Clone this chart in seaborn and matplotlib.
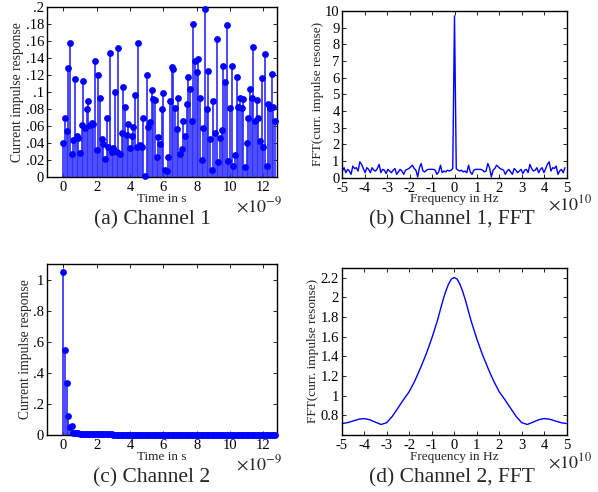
import numpy as np
import pandas as pd
import seaborn as sns
import matplotlib
matplotlib.use('Agg')
import matplotlib.pyplot as plt

# channel 1 impulse response (128 samples, 0.1 ns apart)
ch1_values = [0.040, 0.070, 0.054, 0.128, 0.158, 0.027, 0.044, 0.115, 0.048, 0.046,
              0.029, 0.061, 0.113, 0.058, 0.080, 0.089, 0.061, 0.064, 0.062, 0.136,
              0.032, 0.120, 0.093, 0.045, 0.039, 0.022, 0.069, 0.036, 0.146, 0.030,
              0.034, 0.100, 0.030, 0.151, 0.027, 0.052, 0.106, 0.083, 0.050, 0.063,
              0.034, 0.048, 0.059, 0.096, 0.035, 0.158, 0.038, 0.035, 0.069, 0.002,
              0.120, 0.059, 0.065, 0.102, 0.092, 0.091, 0.024, 0.047, 0.039, 0.080,
              0.099, 0.009, 0.007, 0.024, 0.089, 0.129, 0.127, 0.081, 0.057, 0.093,
              0.027, 0.033, 0.066, 0.048, 0.086, 0.118, 0.104, 0.066, 0.180, 0.136,
              0.123, 0.139, 0.093, 0.020, 0.058, 0.197, 0.080, 0.125, 0.045, 0.009,
              0.089, 0.052, 0.162, 0.018, 0.046, 0.056, 0.130, 0.112, 0.179, 0.019,
              0.081, 0.130, 0.013, 0.026, 0.118, 0.082, 0.093, 0.081, 0.092, 0.012,
              0.040, 0.069, 0.104, 0.093, 0.153, 0.066, 0.091, 0.070, 0.043, 0.116,
              0.036, 0.145, 0.013, 0.086, 0.081, 0.121, 0.083, 0.066]

# channel 2 impulse response (same sampling)
ch2_values = [1.047, 0.546, 0.332, 0.124, 0.050, 0.058, 0.015, 0.015, 0.013, 0.010,
              0.009, 0.008, 0.007, 0.007, 0.006, 0.006, 0.006, 0.005, 0.005, 0.005,
              0.005, 0.005, 0.004, 0.004, 0.004, 0.004, 0.004, 0.004, 0.004, 0.004,
              0.003, 0.003, 0.003, 0.003, 0.003, 0.003, 0.003, 0.003, 0.003, 0.003,
              0.003, 0.003, 0.003, 0.003, 0.003, 0.003, 0.003, 0.003, 0.003, 0.003,
              0.002, 0.002, 0.002, 0.002, 0.002, 0.002, 0.002, 0.002, 0.002, 0.002,
              0.002, 0.002, 0.002, 0.002, 0.002, 0.002, 0.002, 0.002, 0.002, 0.002,
              0.002, 0.002, 0.002, 0.002, 0.002, 0.002, 0.002, 0.002, 0.002, 0.002,
              0.002, 0.002, 0.002, 0.002, 0.002, 0.002, 0.002, 0.002, 0.002, 0.002,
              0.002, 0.002, 0.002, 0.002, 0.002, 0.002, 0.002, 0.002, 0.002, 0.002,
              0.001, 0.001, 0.001, 0.001, 0.001, 0.001, 0.001, 0.001, 0.001, 0.001,
              0.001, 0.001, 0.001, 0.001, 0.001, 0.001, 0.001, 0.001, 0.001, 0.001,
              0.001, 0.001, 0.001, 0.001, 0.001, 0.001, 0.001, 0.001]

sample_step = 0.1  # in 1e-9 s

# |FFT| of channel 1, negative frequencies (-5 ... -0.08), the DC peak, positive side
fft1_neg = [0.40, 0.60, 0.30, 0.50, 0.40, 0.20, 0.70, 0.55, 0.60, 0.40,
            0.95, 0.80, 0.55, 0.30, 0.60, 0.50, 0.30, 0.60, 0.45, 0.40,
            0.55, 0.80, 0.30, 0.50, 0.45, 0.25, 0.50, 0.40, 0.30, 0.45,
            0.55, 0.20, 0.35, 0.50, 0.40, 0.20, 0.45, 0.50, 0.55, 0.65,
            0.75, 0.55, 0.45, 0.05, 0.60, 0.85, 0.40, 0.35, 0.45, 0.50,
            0.50, 0.50, 0.50, 0.45, 0.20, 0.35, 0.75, 0.30, 0.40, 0.35,
            0.45, 0.40, 0.45, 0.55]
fft1_dc = 9.7
fft1_pos = [0.55, 0.45, 0.40, 0.45, 0.35, 0.40, 0.30, 0.75, 0.35, 0.20,
            0.45, 0.50, 0.50, 0.50, 0.50, 0.45, 0.35, 0.40, 0.85, 0.60,
            0.05, 0.45, 0.55, 0.75, 0.65, 0.55, 0.50, 0.45, 0.20, 0.40,
            0.50, 0.35, 0.20, 0.55, 0.45, 0.30, 0.40, 0.50, 0.25, 0.45,
            0.50, 0.30, 0.80, 0.55, 0.40, 0.45, 0.60, 0.30, 0.50, 0.60,
            0.30, 0.55, 0.80, 0.95, 0.40, 0.60, 0.55, 0.70, 0.20, 0.40,
            0.50, 0.30, 0.60]

# |FFT| of channel 2, sampled from -5e10 to 5e10 Hz
fft2_freq = [-5.0, -4.75, -4.5, -4.25, -4.0, -3.75, -3.5, -3.25, -3.0, -2.75,
             -2.5, -2.25, -2.0, -1.75, -1.5, -1.25, -1.0, -0.75, -0.5, -0.375,
             -0.25, -0.125, 0.0, 0.125, 0.25, 0.375, 0.5, 0.75, 1.0, 1.25,
             1.5, 1.75, 2.0, 2.25, 2.5, 2.75, 3.0, 3.25, 3.5, 3.75,
             4.0, 4.25, 4.5, 4.75, 5.0]
fft2_values = [0.716, 0.725, 0.742, 0.760, 0.767, 0.755, 0.730, 0.707, 0.725, 0.790,
               0.874, 0.960, 1.040, 1.150, 1.280, 1.420, 1.580, 1.760, 1.970, 2.060,
               2.135, 2.185, 2.200, 2.185, 2.135, 2.060, 1.970, 1.760, 1.580, 1.420,
               1.280, 1.150, 1.040, 0.960, 0.874, 0.790, 0.725, 0.707, 0.730, 0.755,
               0.767, 0.760, 0.742, 0.725, 0.716]

ch1_yticks = [0, .02, .04, .06, .08, .1, .12, .14, .16, .18, .2]
ch1_ylabels = ['0', '.02', '.04', '.06', '.08', '.1', '.12', '.14', '.16', '.18', '.2']
ch2_yticks = [0, .2, .4, .6, .8, 1]
ch2_ylabels = ['0', '.2', '.4', '.6', '.8', '1']
time_ticks = [0, 2, 4, 6, 8, 10, 12]
freq_ticks = [-5, -4, -3, -2, -1, 0, 1, 2, 3, 4, 5]
freq_labels = ['-5', '-4', '-3', '-2', '-1', '0', '1', '2', '3', '4', '5']
fft1_yticks = list(range(0, 11))
fft2_yticks = [0.8, 1.0, 1.2, 1.4, 1.6, 1.8, 2.0, 2.2]
fft2_ylabels = ['0.8', '1', '1.2', '1.4', '1.6', '1.8', '2', '2.2']

sns.set_theme(style='ticks')
plt.rcParams['font.family'] = ['Liberation Serif', 'DejaVu Serif']
plt.rcParams['mathtext.fontset'] = 'stix'
plt.rcParams['xtick.direction'] = 'in'
plt.rcParams['ytick.direction'] = 'in'
plt.rcParams['xtick.top'] = True
plt.rcParams['ytick.right'] = True
plt.rcParams['axes.linewidth'] = 1.0
plt.rcParams['axes.edgecolor'] = 'black'

W, H = 598, 492
fig = plt.figure(figsize=(W / 100, H / 100), dpi=100)


def add_axes(left, top, right, bottom):
    return fig.add_axes([left / W, 1 - bottom / H, (right - left) / W, (bottom - top) / H])


def style_axes(ax):
    ax.tick_params(axis='both', labelsize=10.5, length=3, width=0.6, colors='black')
    ax.tick_params(axis='y', pad=2)
    ax.tick_params(axis='x', pad=3)
    for s in ax.spines.values():
        s.set_linewidth(1.0)


def stem(ax, values):
    df = pd.DataFrame({'t': np.arange(len(values)) * sample_step, 'v': values})
    ax.vlines(df['t'], 0, df['v'], color='#2b2bff', lw=1.2)
    sns.scatterplot(data=df, x='t', y='v', ax=ax, color='blue', s=24,
                    linewidth=0, zorder=3, clip_on=False)


# (a) channel 1
ax1 = add_axes(46.7, 6.7, 276.7, 177.3)
stem(ax1, ch1_values)
ax1.set_xlim(-1, 12.8)
ax1.set_ylim(0, 0.2)
ax1.set_xticks(time_ticks)
ax1.set_yticks(ch1_yticks)
ax1.set_yticklabels(ch1_ylabels)
ax1.set_xlabel('Time in s', fontsize=9.5, labelpad=-1)
ax1.set_ylabel('Current impulse response', fontsize=9.8, labelpad=1)
style_axes(ax1)

# (b) channel 1 FFT
ax2 = add_axes(342.3, 11, 566.7, 177.7)
fft1 = fft1_neg + [fft1_dc] + fft1_pos
freq1 = (np.arange(len(fft1)) - len(fft1_neg)) * (10 / len(fft1))
sns.lineplot(x=freq1, y=fft1, ax=ax2, color='blue', lw=1.0, estimator=None)
ax2.set_xlim(-5, 5)
ax2.set_ylim(0, 10)
ax2.set_xticks(freq_ticks)
ax2.set_xticklabels(freq_labels)
ax2.set_yticks(fft1_yticks)
ax2.set_xlabel('Frequency in Hz', fontsize=9.5, labelpad=-1)
ax2.set_ylabel('FFT(curr. impulse resonse)', fontsize=9.5, labelpad=1)
style_axes(ax2)

# (c) channel 2
ax3 = add_axes(46.7, 264, 276.7, 435)
stem(ax3, ch2_values)
ax3.set_xlim(-1, 12.8)
ax3.set_ylim(0, 1.1)
ax3.set_xticks(time_ticks)
ax3.set_yticks(ch2_yticks)
ax3.set_yticklabels(ch2_ylabels)
ax3.set_xlabel('Time in s', fontsize=9.5, labelpad=-1)
ax3.set_ylabel('Current impulse response', fontsize=9.8, labelpad=1)
style_axes(ax3)

# (d) channel 2 FFT
ax4 = add_axes(341.7, 267.7, 566.7, 435)
sns.lineplot(x=fft2_freq, y=fft2_values, ax=ax4, color='blue', lw=1.0, estimator=None)
ax4.set_xlim(-5, 5)
ax4.set_ylim(0.6, 2.3)
ax4.set_xticks(freq_ticks)
ax4.set_xticklabels(freq_labels)
ax4.set_yticks(fft2_yticks)
ax4.set_yticklabels(fft2_ylabels)
ax4.set_xlabel('Frequency in Hz', fontsize=9.5, labelpad=-1)
ax4.set_ylabel('FFT(curr. impulse resonse)', fontsize=9.5, labelpad=1)
style_axes(ax4)

# exponents and sub-captions
for y_exp, y_cap, cap_l, cap_r in [(206, 220, '(a) Channel 1', '(b) Channel 1, FFT'),
                                    (464, 478, '(c) Channel 2', '(d) Channel 2, FFT')]:
    fig.text(236 / W, 1 - y_exp / H, r'$\times10^{-9}$', fontsize=13, va='center')
    fig.text(548 / W, 1 - (y_exp - 2) / H, r'$\times10^{10}$', fontsize=13, va='center')
    fig.text(152 / W, 1 - y_cap / H, cap_l, fontsize=15.5, ha='center', va='center')
    fig.text(452 / W, 1 - y_cap / H, cap_r, fontsize=15.5, ha='center', va='center')

fig.savefig('out.png', dpi=100)
